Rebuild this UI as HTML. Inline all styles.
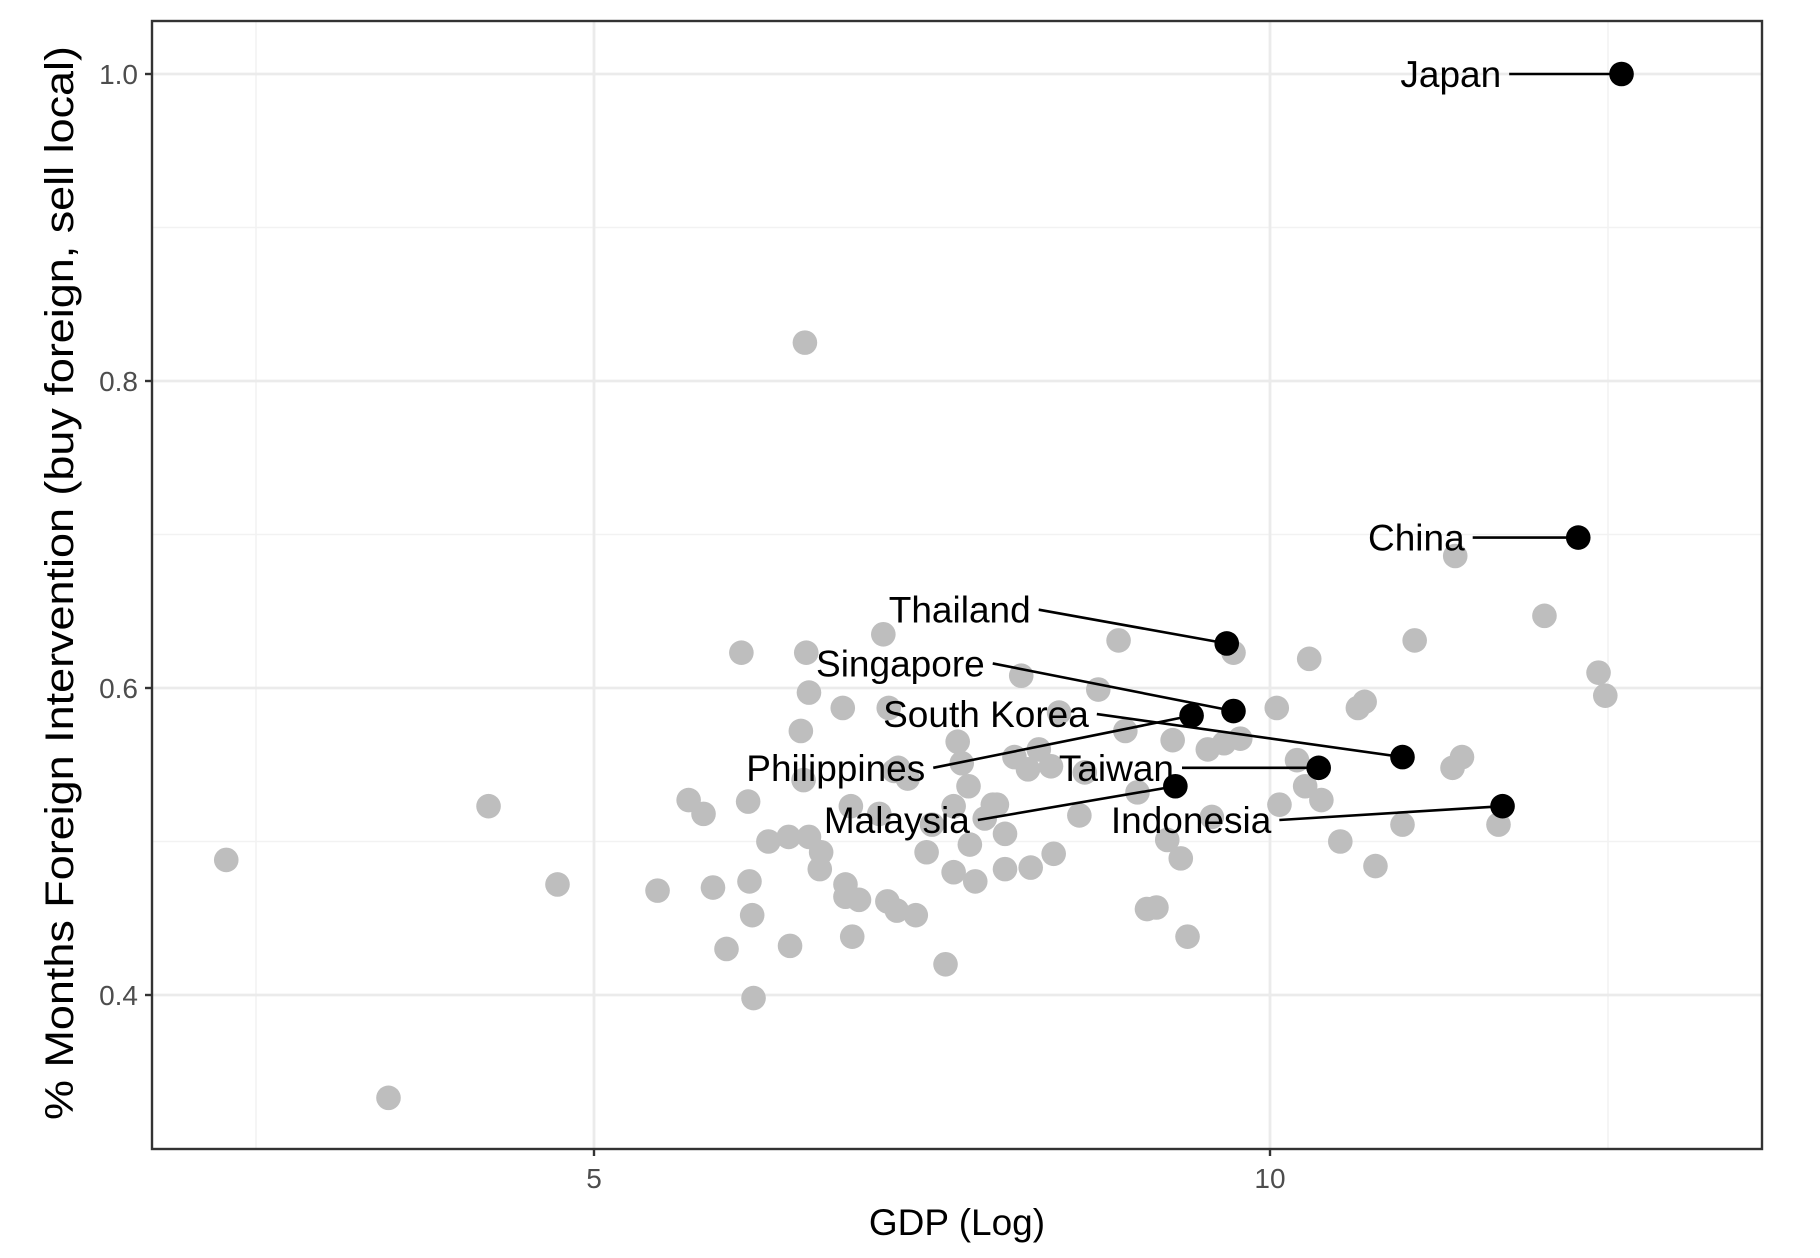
<!DOCTYPE html>
<html><head><meta charset="utf-8"><style>
body{margin:0;background:#fff}
svg{display:block;font-family:"Liberation Sans",sans-serif}
</style></head><body>
<svg id="chart" width="1820" height="1258" viewBox="0 0 1820 1258" xmlns="http://www.w3.org/2000/svg">
<g id="grid"></g>
<g id="pts"></g>
<g id="labs"></g>
<rect x="152" y="21" width="1610" height="1128" fill="none" stroke="#333" stroke-width="2.4"/>
<g id="axes"></g>
<text x="957" y="1235" text-anchor="middle" font-size="37" fill="#000">GDP (Log)</text>
<text transform="translate(73,583) rotate(-90)" text-anchor="middle" font-size="40" textLength="1074" lengthAdjust="spacingAndGlyphs" fill="#000">% Months Foreign Intervention (buy foreign, sell local)</text>
</svg>
<script>
const grayX=[2.28,3.48,4.22,4.73,5.47,5.70,5.81,5.88,5.98,6.09,6.14,6.15,6.17,6.18,6.29,6.44,6.45,6.53,6.55,6.56,6.57,6.59,6.59,6.67,6.68,6.84,6.86,6.86,6.90,6.91,6.96,7.11,7.14,7.17,7.18,7.22,7.24,7.25,7.32,7.38,7.46,7.50,7.60,7.66,7.66,7.69,7.72,7.77,7.78,7.82,7.89,7.95,7.98,8.04,8.04,8.11,8.16,8.21,8.23,8.29,8.38,8.40,8.44,8.59,8.63,8.73,8.88,8.93,9.02,9.09,9.16,9.24,9.28,9.34,9.39,9.54,9.57,9.66,9.73,9.78,10.05,10.07,10.20,10.26,10.29,10.38,10.52,10.65,10.70,10.78,10.98,11.07,11.35,11.37,11.42,11.69,12.03,12.43,12.48];
const grayY=[.488,.333,.523,.472,.468,.527,.518,.470,.430,.623,.526,.474,.452,.398,.500,.503,.432,.572,.540,.825,.623,.597,.503,.482,.493,.587,.472,.464,.523,.438,.462,.518,.635,.461,.587,.546,.455,.548,.541,.452,.493,.511,.420,.523,.480,.565,.551,.536,.498,.474,.515,.524,.524,.505,.482,.555,.608,.547,.483,.560,.549,.492,.584,.517,.545,.599,.631,.572,.532,.456,.457,.501,.566,.489,.438,.560,.516,.564,.623,.567,.587,.524,.553,.536,.619,.527,.500,.587,.591,.484,.511,.631,.548,.686,.555,.511,.647,.610,.595];
const countries=["Japan","China","Thailand","Singapore","South Korea","Philippines","Taiwan","Malaysia","Indonesia"];
const hiX=[12.60,12.28,9.68,9.73,10.98,9.42,10.36,9.30,11.72];
const hiY=[1.000,.698,.629,.585,.555,.582,.548,.536,.523];
const labX=[11.71,11.44,8.23,7.89,8.66,7.45,9.29,7.78,10.01];
const labY=[1.000,.698,.651,.616,.583,.548,.548,.514,.514];
const xTicks=[5,10];
const xMinor=[2.5,12.5];
const yTicks=[0.4,0.6,0.8,1.0];
const yMinor=[0.5,0.7,0.9];
const yTickLabels=["0.4","0.6","0.8","1.0"];

const NS="http://www.w3.org/2000/svg";
const sx=v=>594+(v-5)*135.2;
const sy=v=>74+(1-v)*1535;
function mk(tag,attrs,parent){const e=document.createElementNS(NS,tag);for(const k in attrs)e.setAttribute(k,attrs[k]);parent.appendChild(e);return e;}
const grid=document.getElementById('grid'),pts=document.getElementById('pts'),labs=document.getElementById('labs'),axes=document.getElementById('axes');
mk('rect',{x:152,y:21,width:1610,height:1128,fill:'#fff'},grid);
yMinor.forEach(v=>{const l=mk('line',{x1:152,x2:1762,y1:sy(v),y2:sy(v),stroke:'#f2f2f2','stroke-width':1.5},grid);

});
xMinor.forEach(v=>{const l=mk('line',{x1:sx(v),x2:sx(v),y1:21,y2:1149,stroke:'#f2f2f2','stroke-width':1.5},grid);

});
yTicks.forEach((v,i)=>{const l=mk('line',{x1:152,x2:1762,y1:sy(v),y2:sy(v),stroke:'#ebebeb','stroke-width':2.8},grid);


const t=mk('line',{x1:145,x2:152,y1:sy(v),y2:sy(v),stroke:'#333','stroke-width':2.4},axes);


const tx=mk('text',{x:138,y:sy(v)+10,'text-anchor':'end','font-size':28,fill:'#4d4d4d'},axes);
tx.textContent=yTickLabels[i];

});
xTicks.forEach(v=>{const l=mk('line',{x1:sx(v),x2:sx(v),y1:21,y2:1149,stroke:'#ebebeb','stroke-width':2.8},grid);


const t=mk('line',{x1:sx(v),x2:sx(v),y1:1149,y2:1156,stroke:'#333','stroke-width':2.4},axes);


const tx=mk('text',{x:sx(v),y:1188,'text-anchor':'middle','font-size':28,fill:'#4d4d4d'},axes);
tx.textContent=String(v);

});
grayX.forEach((x,i)=>{const c=mk('circle',{cx:sx(x),cy:sy(grayY[i]),r:12.3,fill:'#bebebe'},pts);

});
countries.forEach((n,i)=>{
const lx=sx(labX[i]),ly=sy(labY[i]);
const seg=mk('line',{x1:lx+8,y1:ly,x2:sx(hiX[i]),y2:sy(hiY[i]),stroke:'#000','stroke-width':2.6},labs);


const c=mk('circle',{cx:sx(hiX[i]),cy:sy(hiY[i]),r:12.3,fill:'#000'},pts);


const t=mk('text',{x:lx,y:ly+13,'text-anchor':'end','font-size':37,fill:'#000'},labs);
t.textContent=n;

});
</script>
</body></html>
